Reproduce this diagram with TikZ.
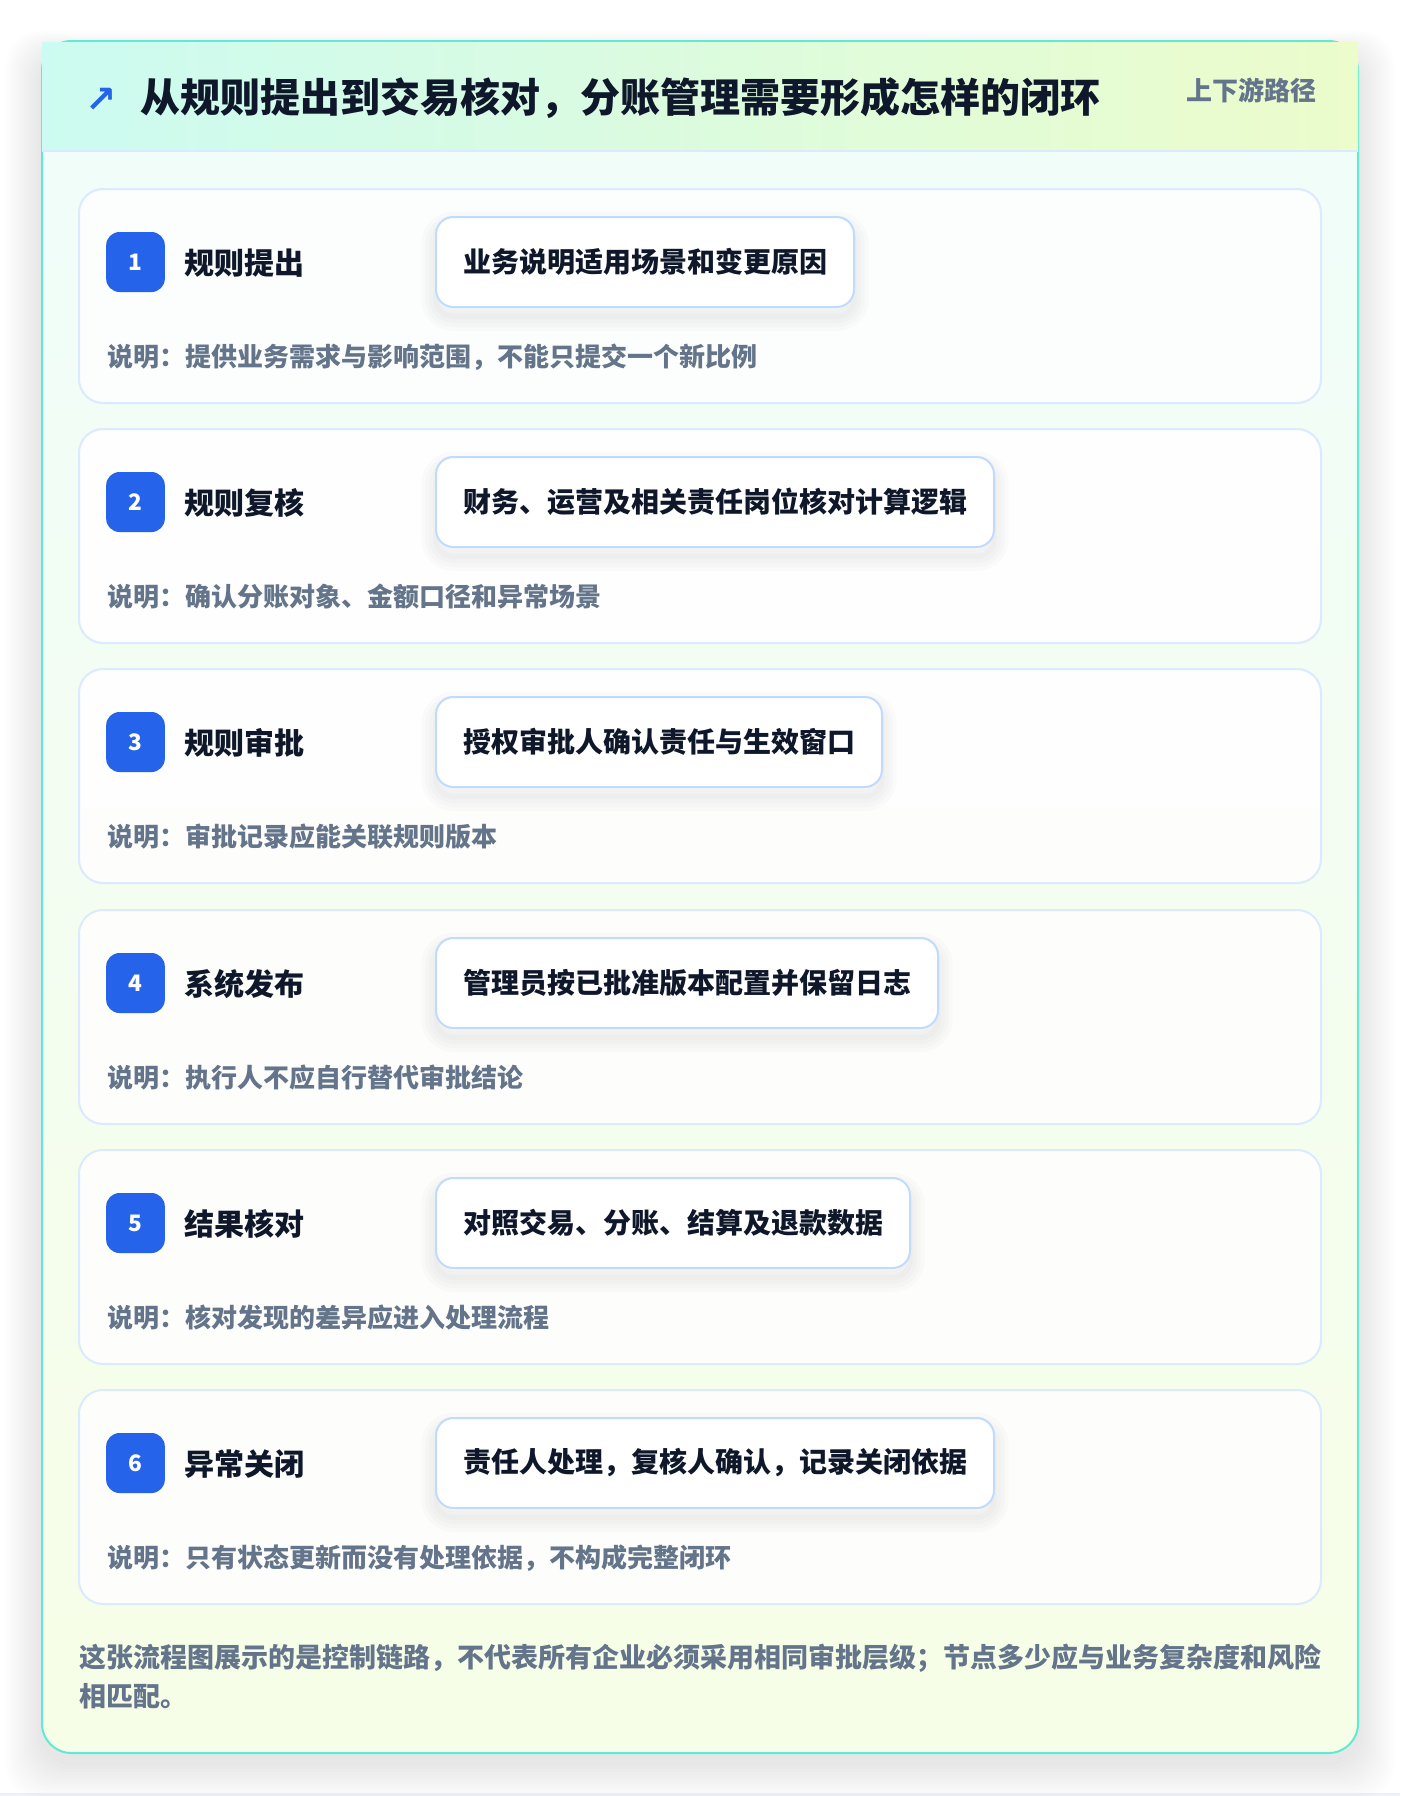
\documentclass[tikz,border=0pt]{standalone}
\usepackage{fontspec}
\setmainfont{Noto Sans CJK SC}
\newfontfamily\symfont{DejaVu Sans}

\definecolor{ink}{HTML}{0F172A}
\definecolor{muted}{HTML}{64748B}
\definecolor{brand}{HTML}{2563EB}
\definecolor{cardedge}{HTML}{DBEAFE}
\definecolor{boxedge}{HTML}{BFDBFE}
\definecolor{tealline}{HTML}{5EEAD4}
\definecolor{headL}{HTML}{CCFBF1}
\definecolor{headR}{HTML}{ECFCCB}
\definecolor{bodyT}{HTML}{F0FDFA}
\definecolor{bodyB}{HTML}{F7FEE7}
\definecolor{pagefoot}{HTML}{EEF0F7}

\tikzset{
    softshade/.style={preaction={draw=black, line width=#1, opacity=.014, transform canvas={yshift=-7pt}}},
    outercard/.style={draw=tealline, line width=1.5pt, top color=bodyT, bottom color=bodyB, rounded corners=22pt},
    stepcard/.style={draw=cardedge, line width=1.5pt, fill=white, fill opacity=.85, rounded corners=18pt,
        minimum width=931.5pt, minimum height=160.5pt},
    badge/.style={fill=brand, rounded corners=10pt, minimum width=44pt, minimum height=45pt, inner sep=0pt,
        text=white, font=\bfseries\fontsize{17pt}{17pt}\selectfont},
    steptitle/.style={anchor=west, inner sep=0pt, text=ink, font=\bfseries\fontsize{22.5pt}{27pt}\selectfont},
    detail/.style={anchor=west, draw=boxedge, line width=1.5pt, fill=white, rounded corners=13pt,
        minimum height=67.5pt, inner xsep=20.25pt, text=ink, font=\bfseries\fontsize{21pt}{25pt}\selectfont,
        softshade=22pt, softshade=16pt, softshade=10pt, softshade=4pt},
    stepnote/.style={anchor=west, inner sep=0pt, text=muted, font=\bfseries\fontsize{19.5pt}{23pt}\selectfont},
}

\begin{document}
\begin{tikzpicture}[x=0.75pt,y=-0.75pt]
    \useasboundingbox (0,0) rectangle (1400,1796);
    \fill[white] (0,0) rectangle (1400,1796);
    \fill[pagefoot] (0,1793) rectangle (1400,1796);

    % frame and header
    \foreach \s in {1,...,12}
        \fill[black, opacity=.008, rounded corners=26pt] ({42-3*\s},{41-2*\s+14}) rectangle ({1358+3*\s},{1753+3*\s+10});
    \draw[outercard] (42,41) rectangle (1358,1753);
    \shade[left color=headL, right color=headR] (42,42) rectangle (1358,151);
    \draw[cardedge, line width=1.5pt] (42,151) -- (1358,151);
    \node[inner sep=0pt, text=brand, font=\symfont\bfseries\fontsize{28pt}{28pt}\selectfont] (icon) at (101.5,100) {↗};
    \node[anchor=west, inner sep=0pt, text=ink, font=\bfseries\fontsize{30pt}{36pt}\selectfont] (title) at (140,98)
        {从规则提出到交易核对，分账管理需要形成怎样的闭环};
    \node[anchor=east, inner sep=0pt, text=muted, font=\bfseries\fontsize{19.5pt}{23pt}\selectfont] (tag) at (1317,90)
        {上下游路径};

    % step 1
    \node[stepcard] (card1) at (700,296) {};
    \node[badge] (badge1) at (135.5,262) {1};
    \node[steptitle] (title1) at (184,263) {规则提出};
    \node[detail] (detail1) at (435,262) {业务说明适用场景和变更原因};
    \node[stepnote] (note1) at (107,357) {说明：提供业务需求与影响范围，不能只提交一个新比例};

    % step 2
    \node[stepcard] (card2) at (700,536) {};
    \node[badge] (badge2) at (135.5,502) {2};
    \node[steptitle] (title2) at (184,503) {规则复核};
    \node[detail] (detail2) at (435,502) {财务、运营及相关责任岗位核对计算逻辑};
    \node[stepnote] (note2) at (107,597) {说明：确认分账对象、金额口径和异常场景};

    % step 3
    \node[stepcard] (card3) at (700,776) {};
    \node[badge] (badge3) at (135.5,742) {3};
    \node[steptitle] (title3) at (184,743) {规则审批};
    \node[detail] (detail3) at (435,742) {授权审批人确认责任与生效窗口};
    \node[stepnote] (note3) at (107,837) {说明：审批记录应能关联规则版本};

    % step 4
    \node[stepcard] (card4) at (700,1017) {};
    \node[badge] (badge4) at (135.5,983) {4};
    \node[steptitle] (title4) at (184,984) {系统发布};
    \node[detail] (detail4) at (435,983) {管理员按已批准版本配置并保留日志};
    \node[stepnote] (note4) at (107,1078) {说明：执行人不应自行替代审批结论};

    % step 5
    \node[stepcard] (card5) at (700,1257) {};
    \node[badge] (badge5) at (135.5,1223) {5};
    \node[steptitle] (title5) at (184,1224) {结果核对};
    \node[detail] (detail5) at (435,1223) {对照交易、分账、结算及退款数据};
    \node[stepnote] (note5) at (107,1318) {说明：核对发现的差异应进入处理流程};

    % step 6
    \node[stepcard] (card6) at (700,1497) {};
    \node[badge] (badge6) at (135.5,1463) {6};
    \node[steptitle] (title6) at (184,1464) {异常关闭};
    \node[detail] (detail6) at (435,1463) {责任人处理，复核人确认，记录关闭依据};
    \node[stepnote] (note6) at (107,1558) {说明：只有状态更新而没有处理依据，不构成完整闭环};

    % footnote
    \node[anchor=west, inner sep=0pt, align=left, text=muted, font=\bfseries\fontsize{20.25pt}{29.5pt}\selectfont] (foot) at (79,1676.5)
        {这张流程图展示的是控制链路，不代表所有企业必须采用相同审批层级；节点多少应与业务复杂度和风险\\相匹配。};
\end{tikzpicture}
\end{document}
